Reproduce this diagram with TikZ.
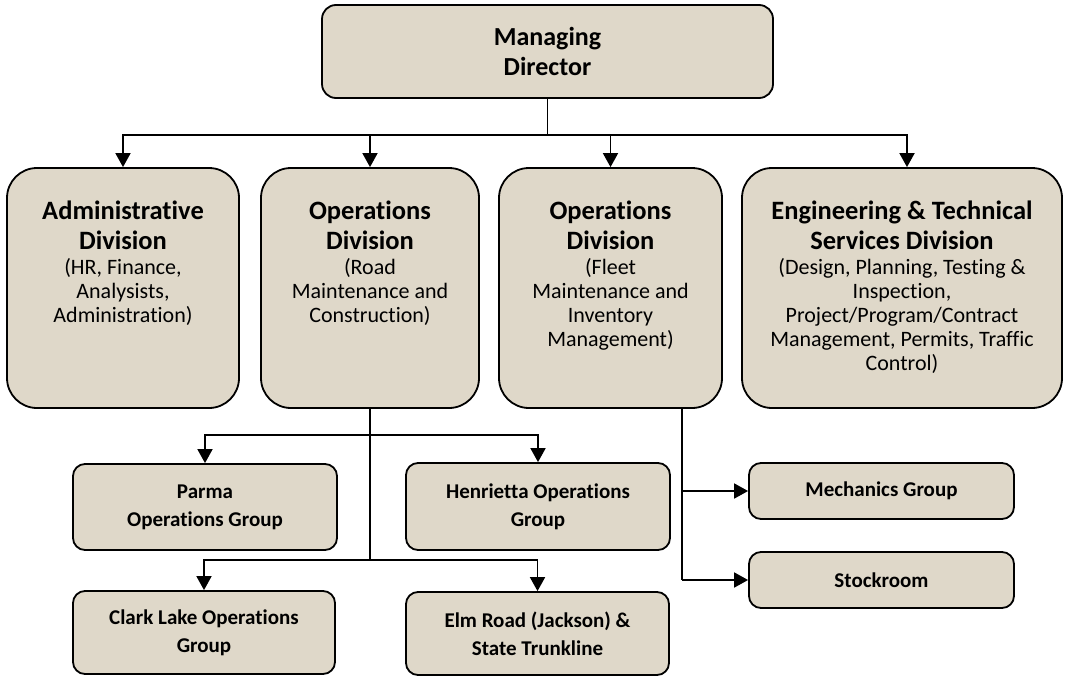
\documentclass[tikz,border=0pt]{standalone}
\usepackage{fontspec}
\setmainfont{Carlito}[Ligatures=NoCommon, Contextuals=NoAlternate, RawFeature={-liga;-dlig;-clig;-calt;-rlig}]
\usetikzlibrary{arrows.meta,calc}
\definecolor{stone}{RGB}{223,216,201}
\begin{document}
\begin{tikzpicture}[x=1pt,y=-1pt,
  bigbox/.style={draw=black, line width=1.8pt, fill=stone, rounded corners=30pt, inner sep=0pt},
  topbox/.style={draw=black, line width=1.8pt, fill=stone, rounded corners=14pt, inner sep=0pt,
    align=center, font=\fontsize{26}{30}\selectfont\bfseries},
  smallbox/.style={draw=black, line width=1.8pt, fill=stone, rounded corners=12pt, inner sep=0pt,
    align=center, font=\fontsize{21}{28}\selectfont\bfseries},
  ttl/.style={align=center, inner sep=0pt, font=\fontsize{26.5}{30}\selectfont\bfseries},
  sub/.style={align=center, inner sep=0pt, font=\fontsize{22}{24}\selectfont},
  conn/.style={line width=1.8pt, draw=black},
  arr/.style={conn, -{Triangle[width=15pt,length=14pt]}}
]
\useasboundingbox (0,0) rectangle (1065,677);

% top
\node[topbox, minimum width=451pt, minimum height=93pt] (md) at (547.5,51.5) {Managing\\Director};

% divisions
\node[bigbox, minimum width=232pt, minimum height=240pt] (admin) at (123,288) {};
\node[bigbox, minimum width=218pt, minimum height=240pt] (ops1) at (370,288) {};
\node[bigbox, minimum width=223pt, minimum height=240pt] (ops2) at (610.5,288) {};
\node[bigbox, minimum width=320pt, minimum height=240pt] (eng) at (902,288) {};

\node[ttl, anchor=north] (adminT) at ([yshift=-34pt]admin.north) {Administrat\kern0pt ive\\Division};
\node[sub, anchor=north] (adminS) at ([yshift=-8pt]adminT.south) {(HR, Finance,\\Analysists,\\Administrat\kern0pt ion)};

\node[ttl, anchor=north] (ops1T) at ([yshift=-34pt]ops1.north) {Operat\kern0pt ions\\Division};
\node[sub, anchor=north] (ops1S) at ([yshift=-8pt]ops1T.south) {(Road\\Maintenance and\\Construct\kern0pt ion)};

\node[ttl, anchor=north] (ops2T) at ([yshift=-34pt]ops2.north) {Operat\kern0pt ions\\Division};
\node[sub, anchor=north] (ops2S) at ([yshift=-8pt]ops2T.south) {(Fleet\\Maintenance and\\Inventory\\Management)};

\node[ttl, anchor=north] (engT) at ([yshift=-34pt]eng.north) {Engineering \& Technical\\Services Division};
\node[sub, anchor=north] (engS) at ([yshift=-8pt]engT.south) {(Design, Planning, Test\kern0pt ing \&\\Inspect\kern0pt ion,\\Project/Program/Contract\\Management, Permits, Traffic\\Control)};

% lower groups
\node[smallbox, minimum width=264pt, minimum height=86pt] (parma) at (205,507) {Parma\\Operat\kern0pt ions Group};
\node[smallbox, minimum width=264pt, minimum height=87pt] (henr) at (538,506.5) {Henrietta Operat\kern0pt ions\\Group};
\node[smallbox, minimum width=262pt, minimum height=83pt] (clark) at (204,632.5) {Clark Lake Operat\kern0pt ions\\Group};
\node[smallbox, minimum width=263pt, minimum height=83pt] (elm) at (537.5,633.5) {Elm Road (Jackson) \&\\State Trunkline};
\node[smallbox, minimum width=265pt, minimum height=56pt] (mech) at (881.5,491) {Mechanics Group};
\node[smallbox, minimum width=265pt, minimum height=56pt] (stock) at (881.5,580) {Stockroom};

% connectors
\coordinate (jmd) at (547.5,135);
\draw[conn] (md.south) -- (jmd);
\draw[arr] (jmd) -| (admin.north);
\draw[arr] (jmd) -| (ops1.north);
\draw[arr] (jmd) -| (ops2.north);
\draw[arr] (jmd) -| ([xshift=5pt]eng.north);

\coordinate (j1) at (370,435);
\coordinate (j2) at (370,560);
\draw[conn] (ops1.south) -- (j2);
\draw[arr] (j1) -| (parma.north);
\draw[arr] (j1) -| (henr.north);
\draw[arr] (j2) -| (clark.north);
\draw[arr] (j2) -| (elm.north);

\coordinate (k0) at (682,408);
\coordinate (k1) at (682,491);
\coordinate (k2) at (682,580);
\draw[conn] (k0) -- (k2);
\draw[arr] (k1) -- (mech.west);
\draw[arr] (k2) -- (stock.west);
\end{tikzpicture}
\end{document}
